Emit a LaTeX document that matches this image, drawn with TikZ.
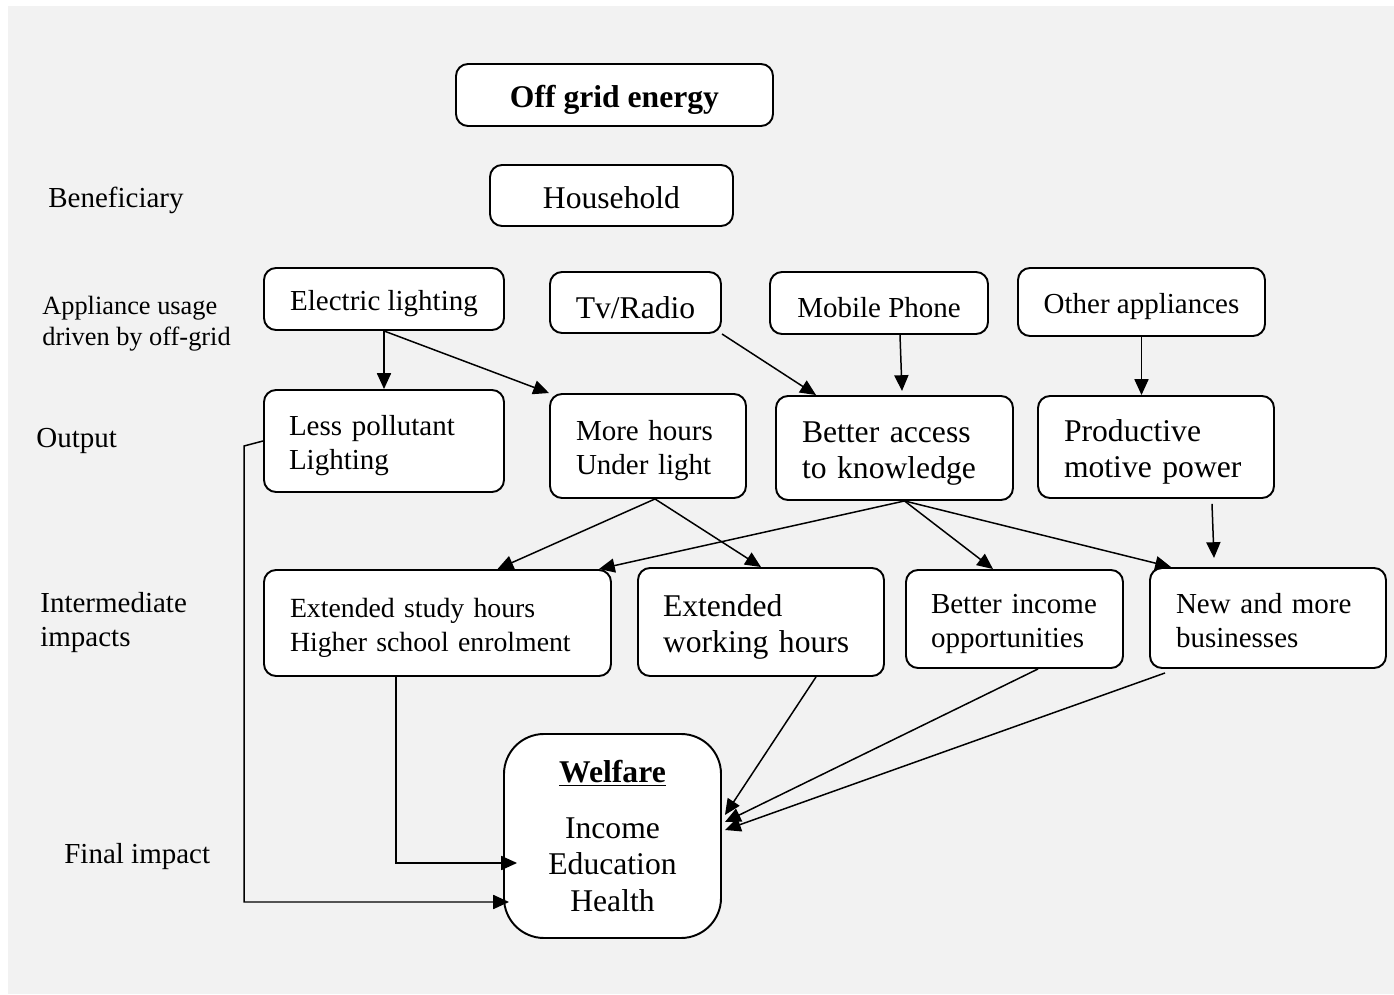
\documentclass[tikz,border=0pt]{standalone}
\usepackage{fontspec}
\setmainfont{Liberation Serif}
\usepackage{tikz}
\usetikzlibrary{shapes,arrows,positioning,calc,arrows.meta}

\begin{document}
\begin{tikzpicture}[
  box/.style={draw, line width=1.1pt, rounded corners=0.24cm, fill=white, align=center, inner sep=0pt, text height=17pt, font=\fontsize{16.5}{19.3}\selectfont},
  bigbox/.style={box, text height=18pt, font=\fontsize{18}{20.8}\selectfont},
  lbl/.style={anchor=west, align=left, inner sep=0pt, font=\fontsize{16.5}{19.3}\selectfont},
  arr/.style={line width=0.85pt, -{Triangle[length=9pt,width=8pt]}}
]
\useasboundingbox (0,0) rectangle (27.88,19.88);
\fill[black!5] (0.16,0) rectangle (27.88,19.76);

\node[bigbox, minimum width=6.34cm, minimum height=1.24cm] (energy) at (12.29,17.98) {\textbf{Off grid energy}};
\node[bigbox, text height=15pt, minimum width=4.86cm, minimum height=1.22cm] (household) at (12.23,15.97) {Household};

\node[box, minimum width=4.8cm, minimum height=1.24cm] (light) at (7.68,13.9) {Electric lighting};
\node[bigbox, minimum width=3.42cm, minimum height=1.22cm] (tv) at (12.71,13.83) {Tv/Radio};
\node[box, minimum width=4.36cm, minimum height=1.24cm] (phone) at (17.58,13.82) {Mobile Phone};
\node[box, minimum width=4.94cm, minimum height=1.36cm] (other) at (22.83,13.84) {Other appliances};

\node[box, align=left, inner xsep=0.5cm, text width=3.8cm, minimum width=4.8cm, minimum height=2.04cm] (pollut) at (7.68,11.06) {Less pollutant\\Lighting};
\node[box, align=left, inner xsep=0.52cm, text width=2.88cm, minimum width=3.92cm, minimum height=2.08cm] (hours) at (12.96,10.96) {More hours\\Under light};
\node[bigbox, align=left, inner xsep=0.52cm, text width=3.7cm, minimum width=4.74cm, minimum height=2.08cm] (know) at (17.89,10.92) {Better access\\to knowledge};
\node[bigbox, align=left, inner xsep=0.52cm, text width=3.68cm, minimum width=4.72cm, minimum height=2.04cm] (motive) at (23.12,10.94) {Productive\\motive power};

\node[box, align=left, inner xsep=0.52cm, text width=5.9cm, minimum width=6.94cm, minimum height=2.12cm, font=\fontsize{15.8}{19.3}\selectfont] (study) at (8.75,7.42) {Extended study hours\\Higher school enrolment};
\node[bigbox, align=left, inner xsep=0.5cm, text width=3.92cm, minimum width=4.92cm, minimum height=2.16cm] (work) at (15.22,7.44) {Extended\\working hours};
\node[box, align=left, inner xsep=0.5cm, text width=3.34cm, minimum width=4.34cm, minimum height=1.96cm] (income) at (20.29,7.5) {Better income\\opportunities};
\node[box, align=left, inner xsep=0.52cm, text width=3.68cm, minimum width=4.72cm, minimum height=2.0cm, text height=14pt] (business) at (25.36,7.52) {New and more\\businesses};

\node[bigbox, text height={}, rounded corners=0.8cm, minimum width=4.34cm, minimum height=4.08cm] (welfare) at (12.25,3.16) {\underline{\textbf{Welfare}}\\[11pt]Income\\Education\\Health};

\node[lbl] (lbene) at (0.96,15.88) {Beneficiary};
\node[lbl, font=\fontsize{15}{17.6}\selectfont] (lappl) at (0.84,13.41) {Appliance usage\\driven by off-grid};
\node[lbl] (lout) at (0.72,11.07) {Output};
\node[lbl] (linter) at (0.8,7.43) {Intermediate\\impacts};
\node[lbl] (lfinal) at (1.28,2.75) {Final impact};

\draw[arr] (light.south) -- (pollut.north);
\draw[arr] (light.south) -- (hours.north west);
\draw[arr] (tv.south east) -- ([xshift=0.82cm]know.north west);
\draw[arr] ([xshift=0.42cm]phone.south) -- ([shift={(0.15,0.08)}]know.north);
\draw[arr] (other.south) -- (other.south |- motive.north);

\draw[arr] ([xshift=0.14cm]hours.south) -- ([xshift=1.2cm]study.north);
\draw[arr] ([xshift=0.14cm]hours.south) -- (work.north);
\draw[arr] ([xshift=0.2cm]know.south) -- ([xshift=-0.26cm]study.north east);
\draw[arr] ([xshift=0.2cm]know.south) -- ([xshift=-0.43cm]income.north);
\draw[arr] ([xshift=0.2cm]know.south) -- ([xshift=0.44cm]business.north west);
\draw[arr] ([shift={(1.12,-0.1)}]motive.south) -- ([shift={(-1.08,0.18)}]business.north);

\draw[arr] (pollut.west) -- ++(-0.38,-0.1) |- ([shift={(0.12,-1.32)}]welfare.west);
\draw[arr] ([xshift=-0.83cm]study.south) |- ([shift={(0.28,-0.54)}]welfare.west);
\draw[arr] ([xshift=1.1cm]work.south) -- ([shift={(0.06,0.42)}]welfare.east);
\draw[arr] ([xshift=0.47cm]income.south) -- ([shift={(0.06,0.28)}]welfare.east);
\draw[arr] ([shift={(0.32,-0.08)}]business.south west) -- ([shift={(0.06,0.12)}]welfare.east);
\end{tikzpicture}
\end{document}
